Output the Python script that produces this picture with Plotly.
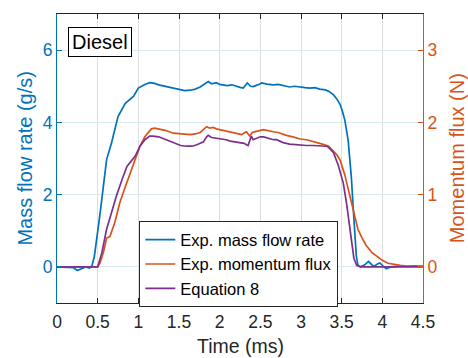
import plotly.graph_objects as go

# ---- data ----
t_mass = [0, 0.1, 0.2, 0.25, 0.3, 0.35, 0.4, 0.43, 0.46, 0.49, 0.53, 0.57, 0.61, 0.67,
          0.71, 0.75, 0.84, 0.94, 1.0, 1.08, 1.14, 1.2, 1.25, 1.33, 1.41, 1.5, 1.57, 1.64,
          1.7, 1.76, 1.8, 1.84, 1.86, 1.9, 1.96, 2.0, 2.05, 2.09, 2.15, 2.21, 2.25, 2.29,
          2.34, 2.38, 2.41, 2.46, 2.52, 2.58, 2.66, 2.72, 2.8, 2.86, 2.92, 2.99, 3.05, 3.11,
          3.17, 3.23, 3.3, 3.35, 3.4, 3.44, 3.48, 3.51, 3.54, 3.58, 3.6, 3.62, 3.64, 3.66,
          3.68, 3.7, 3.73, 3.78, 3.83, 3.87, 3.9, 3.94, 3.97, 4.01, 4.05, 4.1, 4.2, 4.25,
          4.3, 4.4, 4.45, 4.5]
mass_flow = [0, 0, -0.02, -0.1, -0.04, 0, -0.03, 0.03, 0.3, 0.75, 1.49, 2.23, 2.97, 3.43,
             3.8, 4.16, 4.53, 4.72, 4.95, 5.05, 5.1, 5.08, 5.04, 5.0, 4.95, 4.9, 4.88, 4.89,
             4.92, 4.98, 5.04, 5.1, 5.13, 5.07, 5.1, 5.05, 5.03, 5.02, 5.04, 4.99, 4.97, 4.95,
             5.09, 5.0, 4.99, 5.03, 5.09, 5.06, 5.04, 5.05, 5.0, 4.98, 5.0, 4.97, 4.96, 4.95,
             4.96, 4.92, 4.9, 4.85, 4.76, 4.65, 4.5, 4.3, 4.05, 3.5, 3.0, 2.45, 1.7, 0.9,
             0.3, 0.05, 0.0, 0.05, 0.15, 0.06, 0.02, 0.08, 0.11, 0.02, -0.05, 0.0, 0.02, 0.03,
             0.01, 0.03, 0.01, 0.02]

t_mom = [0, 0.3, 0.5, 0.53, 0.57, 0.61, 0.65, 0.71, 0.77, 0.84, 0.9, 0.96, 1.02, 1.08,
         1.12, 1.16, 1.2, 1.25, 1.33, 1.43, 1.5, 1.57, 1.64, 1.7, 1.76, 1.8, 1.84, 1.88,
         1.92, 1.96, 2.0, 2.05, 2.1, 2.17, 2.22, 2.27, 2.31, 2.33, 2.35, 2.37, 2.4, 2.45,
         2.5, 2.54, 2.6, 2.66, 2.72, 2.82, 2.9, 2.99, 3.07, 3.15, 3.23, 3.29, 3.34, 3.4,
         3.44, 3.48, 3.51, 3.54, 3.58, 3.62, 3.66, 3.7, 3.75, 3.8, 3.87, 3.93, 4.0, 4.07,
         4.15, 4.22, 4.3, 4.4, 4.5]
momentum_flux = [0, 0, 0, 0.06, 0.2, 0.4, 0.42, 0.61, 0.88, 1.11, 1.3, 1.48, 1.67, 1.8,
                 1.86, 1.91, 1.92, 1.91, 1.89, 1.85, 1.84, 1.83, 1.83, 1.84, 1.86, 1.9, 1.94,
                 1.92, 1.93, 1.91, 1.9, 1.88, 1.87, 1.85, 1.84, 1.83, 1.86, 1.87, 1.84, 1.81,
                 1.86, 1.87, 1.89, 1.9, 1.88, 1.87, 1.86, 1.82, 1.8, 1.77, 1.76, 1.74, 1.71,
                 1.69, 1.67, 1.6, 1.55, 1.48, 1.38, 1.27, 1.08, 0.88, 0.68, 0.52, 0.4, 0.3,
                 0.2, 0.15, 0.09, 0.05, 0.03, 0.02, 0.01, 0.01, 0.01]

t_eq8 = [0, 0.3, 0.5, 0.55, 0.61, 0.67, 0.73, 0.8, 0.86, 0.96, 1.02, 1.08, 1.14, 1.18,
         1.25, 1.32, 1.39, 1.45, 1.52, 1.59, 1.66, 1.72, 1.76, 1.8, 1.84, 1.86, 1.9, 1.96,
         2.02, 2.08, 2.13, 2.18, 2.25, 2.3, 2.33, 2.35, 2.37, 2.39, 2.41, 2.45, 2.5, 2.54,
         2.6, 2.66, 2.7, 2.78, 2.86, 2.95, 3.07, 3.15, 3.23, 3.32, 3.36, 3.4, 3.46, 3.52,
         3.56, 3.59, 3.62, 3.65, 3.685, 3.73, 4.5]
equation_8 = [0, 0, 0, 0.19, 0.52, 0.75, 0.98, 1.21, 1.39, 1.53, 1.67, 1.76, 1.81, 1.81,
              1.8, 1.77, 1.74, 1.71, 1.68, 1.67, 1.67, 1.69, 1.71, 1.73, 1.8, 1.82, 1.79,
              1.78, 1.76, 1.76, 1.74, 1.73, 1.72, 1.71, 1.69, 1.68, 1.75, 1.81, 1.76, 1.78,
              1.8, 1.8, 1.78, 1.76, 1.76, 1.72, 1.7, 1.69, 1.68, 1.68, 1.68, 1.67, 1.63,
              1.58, 1.4, 1.16, 0.88, 0.61, 0.33, 0.12, 0.02, 0, 0]

x_ticks = [0, 0.5, 1, 1.5, 2, 2.5, 3, 3.5, 4, 4.5]
x_ticklabels = ["0", "0.5", "1", "1.5", "2", "2.5", "3", "3.5", "4", "4.5"]
left_ticks = [0, 2, 4, 6]
right_ticks = [0, 1, 2, 3]

BLUE = "#0072BD"
ORANGE = "#D95319"
PURPLE = "#7E2F8E"
DARK = "#262626"
FONT = "Liberation Sans, Arial, sans-serif"

fig = go.Figure()
fig.add_trace(go.Scatter(x=t_mass, y=mass_flow, mode="lines", name="Exp. mass flow rate",
                         line=dict(color=BLUE, width=1.7), yaxis="y"))
fig.add_trace(go.Scatter(x=t_mom, y=momentum_flux, mode="lines", name="Exp. momentum flux",
                         line=dict(color=ORANGE, width=1.7), yaxis="y2"))
fig.add_trace(go.Scatter(x=t_eq8, y=equation_8, mode="lines", name="Equation 8",
                         line=dict(color=PURPLE, width=1.7), yaxis="y2"))

fig.update_layout(
    width=468, height=358,
    margin=dict(l=57, r=45, t=14, b=55),
    paper_bgcolor="white", plot_bgcolor="white",
    font=dict(family=FONT, color=DARK, size=17),
    xaxis=dict(range=[0, 4.5], tickvals=x_ticks, ticktext=x_ticklabels,
               ticks="inside", ticklen=5, tickcolor=DARK, showline=True, linecolor=DARK,
               linewidth=1, mirror="ticks", showgrid=True, gridcolor="#dedede",
               zeroline=False, tickfont=dict(size=17.5, color=DARK), ticklabelstandoff=3),
    yaxis=dict(range=[-1, 7], tickvals=left_ticks, ticks="inside", ticklen=5,
               tickcolor=BLUE, showline=True, linecolor=BLUE, linewidth=1,
               showgrid=True, gridcolor="#d9eaf5", zeroline=False,
               tickfont=dict(size=17.5, color=BLUE)),
    yaxis2=dict(range=[-0.5, 3.5], tickvals=right_ticks, ticks="inside", ticklen=5,
                tickcolor=ORANGE, showline=True, linecolor=ORANGE, linewidth=1,
                overlaying="y", side="right", showgrid=False, zeroline=False,
                tickfont=dict(size=17.5, color=ORANGE)),
    showlegend=True,
    legend=dict(x=0.2249, y=0.2826, xanchor="left", yanchor="top",
                bgcolor="white", bordercolor=DARK, borderwidth=1,
                font=dict(size=16.5, color="black"), tracegroupgap=0),
    annotations=[
        dict(text="Diesel", xref="paper", yref="paper", x=0.117, y=0.9016,
             xanchor="center", yanchor="middle", showarrow=False,
             font=dict(size=20, color="black"), bgcolor="white",
             bordercolor="black", borderwidth=1, borderpad=3),
        dict(text="Time (ms)", xref="paper", yref="paper", x=0.5, y=-0.148,
             xanchor="center", yanchor="middle", showarrow=False,
             font=dict(size=19.5, color=DARK)),
        dict(text="Mass flow rate (g/s)", xref="paper", yref="paper", x=-0.090, y=0.5,
             xanchor="center", yanchor="middle", showarrow=False, textangle=-90,
             font=dict(size=20, color=BLUE)),
        dict(text="Momentum flux (N)", xref="paper", yref="paper", x=1.092, y=0.5,
             xanchor="center", yanchor="middle", showarrow=False, textangle=-90,
             font=dict(size=20, color=ORANGE)),
    ],
)

fig.write_html("out.html")
